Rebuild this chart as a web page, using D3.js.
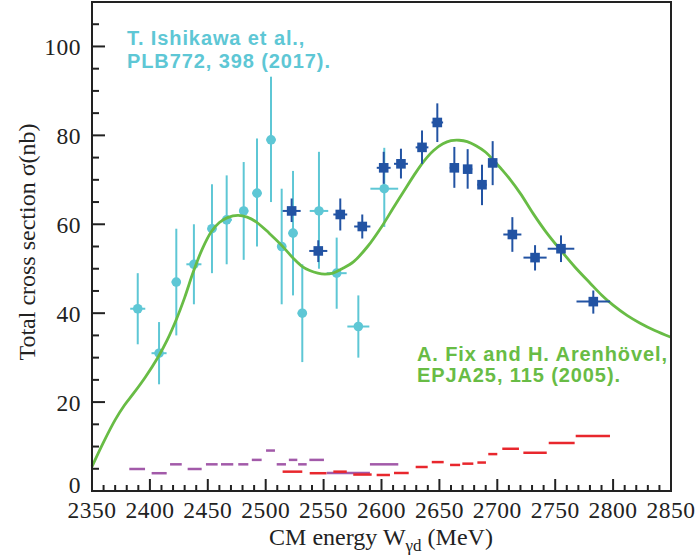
<!DOCTYPE html>
<html lang="en">
<head>
<meta charset="UTF-8">
<title>Total cross section vs CM energy</title>
<script src="https://cdn.jsdelivr.net/npm/d3@7"></script>
<style>
  body { margin: 0; background: #fff; }
  .tick-label { font-family: "Liberation Serif", "DejaVu Serif", serif; font-size: 23.5px; letter-spacing: 0.5px; fill: #222; }
  .title { font-family: "Liberation Serif", "DejaVu Serif", serif; font-size: 24px; fill: #222; }
  .note { font-family: "Liberation Sans", Arial, sans-serif; font-weight: bold; font-size: 20px; letter-spacing: 0.9px; }
</style>
</head>
<body>
<script>
// light blue: T. Ishikawa et al. (circles)
var ishE  = [2389.5, 2407.9, 2422.8, 2438, 2453.6, 2466.3, 2481, 2492.5, 2504.6, 2513.8, 2523.6, 2531.6, 2546, 2561.3, 2580, 2602.4];
var ishV  = [41, 31, 47, 51, 59, 61, 63, 67, 79, 55, 58, 40, 63, 49, 37, 68];
var ishHi = [49, 38, 59, 60, 69, 71, 74, 79.3, 93.2, 68, 72, 51, 76.3, 57, 44, 77.2];
var ishLo = [33, 24, 35, 42, 49, 51, 52, 55, 65, 42, 44, 29, 50, 41, 30, 59.4];
var ishDE = [6.5, 6.5, 4, 6.5, 4, 4.5, 4, 4, 4, 4, 4, 4, 8, 8.6, 9.5, 12];

// dark blue squares
var newE  = [2522.4, 2545.4, 2564.4, 2583.4, 2601.9, 2616.8, 2635, 2648.2, 2662.9, 2674.4, 2686.8, 2696, 2713, 2732.6, 2755, 2782.9];
var newV  = [63, 54, 62.2, 59.5, 72.7, 73.6, 77.3, 82.9, 72.7, 72.4, 68.9, 73.8, 57.7, 52.5, 54.5, 42.6];
var newHi = [65.8, 56.4, 65.8, 62.2, 76.3, 77, 81.1, 87.2, 77.4, 76.9, 73.4, 78.7, 61.6, 55.3, 57.5, 45.1];
var newLo = [60.5, 51.5, 58.6, 56.8, 69.1, 70.3, 73.6, 78.5, 68.2, 68, 64.3, 68.8, 53.8, 49.6, 51.5, 39.9];
var newDE = [7.8, 7.8, 6, 7, 6, 6, 5.5, 5, 4, 4, 4, 4, 7.8, 10, 11.5, 14.5];

// green: Fix and Arenhovel calculation
var theoE = [2350, 2360, 2370, 2378, 2386, 2396, 2407, 2415, 2423, 2430, 2437.5, 2445, 2453, 2460, 2467, 2476, 2484, 2492, 2503, 2514, 2524, 2531, 2538, 2545, 2551, 2558, 2566, 2576, 2588, 2601, 2610, 2619, 2628, 2636, 2645, 2653, 2660, 2667, 2674, 2682, 2690, 2697, 2704, 2711, 2720, 2731, 2742, 2754, 2767, 2780, 2790, 2800, 2812, 2823, 2836, 2850];
var theoV = [5.5, 11, 16, 19.3, 22, 25.6, 30.1, 34, 38.7, 43.5, 49.3, 54.3, 58.3, 60.4, 61.5, 62, 61.6, 60.5, 58, 55.2, 52.3, 50.6, 49.6, 49, 48.8, 49, 50, 51.6, 55, 59.8, 63.6, 67.3, 71, 74, 76.6, 78.1, 78.8, 78.9, 78.6, 77.6, 76.2, 74.3, 72.3, 70.1, 66.9, 62.4, 58.3, 54.4, 50.4, 46.8, 44.1, 41.8, 39.5, 37.8, 36.1, 34.6];

// purple and red bin segments near the bottom
var purpLo = [2382.2, 2401.5, 2417.4, 2432.6, 2448.4, 2461.4, 2476.3, 2488, 2500.3, 2509.5, 2520, 2528, 2537.7, 2552.7, 2590];
var purpHi = [2395.8, 2414.5, 2427.5, 2444.7, 2458.5, 2472, 2485, 2496.5, 2508, 2517.5, 2527.3, 2535.4, 2550.3, 2590, 2614.5];
var purpV  = [4.95, 4.0, 6.0, 4.95, 6.0, 6.0, 6.0, 7.0, 9.1, 6.0, 7.0, 6.0, 7.0, 4.05, 6.0];
var redLo = [2514.6, 2538, 2558.4, 2575.6, 2595.8, 2610.8, 2629.5, 2643.4, 2659.2, 2669.8, 2682.8, 2692.2, 2704.3, 2722.5, 2744.4, 2767.7];
var redHi = [2531.6, 2552.5, 2570, 2591.5, 2607.3, 2623.5, 2639.9, 2653.7, 2667.9, 2679.3, 2690.2, 2700, 2718.7, 2742.7, 2766.8, 2797.3];
var redV  = [4.35, 4.0, 4.35, 3.7, 3.6, 4.05, 5.4, 6.5, 5.86, 6.15, 6.4, 8.3, 9.5, 8.6, 10.8, 12.4];

var xTicks = [2350, 2400, 2450, 2500, 2550, 2600, 2650, 2700, 2750, 2800, 2850];
var yTicks = [0, 20, 40, 60, 80, 100];

var W = 697, H = 556;
var m = {left: 92, top: 2, right: 26, bottom: 65};
var x = d3.scaleLinear().domain([2350, 2850]).range([m.left, W - m.right]);
var y = d3.scaleLinear().domain([0, 110]).range([H - m.bottom, m.top]);

var cLight = "#5ec7d5", cDark = "#2253a3", cGreen = "#68bc45", cPurp = "#a25aa9", cRed = "#e8272d";

var svg = d3.select("body").append("svg").attr("width", W).attr("height", H);

// bottom segments
var pIdx = d3.range(purpV.length);
svg.append("g").selectAll("line").data(pIdx).enter().append("line")
  .attr("x1", function(i){ return x(purpLo[i]); })
  .attr("x2", function(i){ return x(purpHi[i]); })
  .attr("y1", function(i){ return y(purpV[i]); })
  .attr("y2", function(i){ return y(purpV[i]); })
  .attr("stroke", cPurp).attr("stroke-width", 2.5);
var rIdx = d3.range(redV.length);
svg.append("g").selectAll("line").data(rIdx).enter().append("line")
  .attr("x1", function(i){ return x(redLo[i]); })
  .attr("x2", function(i){ return x(redHi[i]); })
  .attr("y1", function(i){ return y(redV[i]); })
  .attr("y2", function(i){ return y(redV[i]); })
  .attr("stroke", cRed).attr("stroke-width", 2.5);

// light blue points with error bars
var iIdx = d3.range(ishV.length);
var gi = svg.append("g");
gi.selectAll(".ev").data(iIdx).enter().append("line")
  .attr("x1", function(i){ return x(ishE[i]); }).attr("x2", function(i){ return x(ishE[i]); })
  .attr("y1", function(i){ return y(ishLo[i]); }).attr("y2", function(i){ return y(ishHi[i]); })
  .attr("stroke", cLight).attr("stroke-width", 2);
gi.selectAll(".eh").data(iIdx).enter().append("line")
  .attr("x1", function(i){ return x(ishE[i] - ishDE[i]); }).attr("x2", function(i){ return x(ishE[i] + ishDE[i]); })
  .attr("y1", function(i){ return y(ishV[i]); }).attr("y2", function(i){ return y(ishV[i]); })
  .attr("stroke", cLight).attr("stroke-width", 2);
gi.selectAll("circle").data(iIdx).enter().append("circle")
  .attr("cx", function(i){ return x(ishE[i]); })
  .attr("cy", function(i){ return y(ishV[i]); })
  .attr("r", 4.8).attr("fill", cLight);

// theory curve
var line = d3.line()
  .x(function(i){ return x(theoE[i]); })
  .y(function(i){ return y(theoV[i]); })
  .curve(d3.curveCatmullRom.alpha(0.5));
svg.append("path").attr("d", line(d3.range(theoE.length)))
  .attr("fill", "none").attr("stroke", cGreen).attr("stroke-width", 2.8);

// dark blue squares with error bars
var nIdx = d3.range(newV.length);
var gn = svg.append("g");
gn.selectAll(".ev").data(nIdx).enter().append("line")
  .attr("x1", function(i){ return x(newE[i]); }).attr("x2", function(i){ return x(newE[i]); })
  .attr("y1", function(i){ return y(newLo[i]); }).attr("y2", function(i){ return y(newHi[i]); })
  .attr("stroke", cDark).attr("stroke-width", 2);
gn.selectAll(".eh").data(nIdx).enter().append("line")
  .attr("x1", function(i){ return x(newE[i] - newDE[i]); }).attr("x2", function(i){ return x(newE[i] + newDE[i]); })
  .attr("y1", function(i){ return y(newV[i]); }).attr("y2", function(i){ return y(newV[i]); })
  .attr("stroke", cDark).attr("stroke-width", 2);
gn.selectAll("rect").data(nIdx).enter().append("rect")
  .attr("x", function(i){ return x(newE[i]) - 4.8; })
  .attr("y", function(i){ return y(newV[i]) - 4.8; })
  .attr("width", 9.6).attr("height", 9.6).attr("fill", cDark);

// frame
svg.append("rect").attr("x", m.left).attr("y", m.top)
  .attr("width", W - m.left - m.right).attr("height", H - m.top - m.bottom)
  .attr("fill", "none").attr("stroke", "#222").attr("stroke-width", 2);

// ticks (inward)
var xMinor = d3.range(2360, 2850, 10);
svg.append("g").selectAll("line").data(xMinor).enter().append("line")
  .attr("x1", function(d){ return x(d); }).attr("x2", function(d){ return x(d); })
  .attr("y1", y(0)).attr("y2", function(d){ return d % 50 === 0 ? y(0) - 12 : y(0) - 6; })
  .attr("stroke", "#222").attr("stroke-width", 2);
var yMinor = d3.range(5, 110, 5);
svg.append("g").selectAll("line").data(yMinor).enter().append("line")
  .attr("y1", function(d){ return y(d); }).attr("y2", function(d){ return y(d); })
  .attr("x1", x(2350)).attr("x2", function(d){ return d % 20 === 0 ? x(2350) + 13 : x(2350) + 7; })
  .attr("stroke", "#222").attr("stroke-width", 2);

// tick labels
svg.append("g").selectAll("text").data(xTicks).enter().append("text")
  .attr("class", "tick-label").attr("text-anchor", "middle")
  .attr("x", function(d){ return x(d); }).attr("y", 518)
  .text(function(d){ return d; });
svg.append("g").selectAll("text").data(yTicks).enter().append("text")
  .attr("class", "tick-label").attr("text-anchor", "end")
  .attr("x", 81).attr("y", function(d){ return d === 0 ? y(d) + 2 : y(d) + 9; })
  .text(function(d){ return d; });

// axis titles
var xt = svg.append("text").attr("class", "title").attr("text-anchor", "middle")
  .attr("x", 381).attr("y", 545);
xt.append("tspan").text("CM energy W");
xt.append("tspan").attr("dy", 6).attr("font-size", 17).text("γd");
xt.append("tspan").attr("dy", -6).text(" (MeV)");

svg.append("text").attr("class", "title").attr("text-anchor", "middle")
  .attr("font-size", 25)
  .attr("transform", "translate(35,242) rotate(-90)")
  .text("Total cross section σ(nb)");

// notes
svg.append("text").attr("class", "note").attr("fill", cLight).attr("x", 127).attr("y", 45).text("T. Ishikawa et al.,");
svg.append("text").attr("class", "note").attr("fill", cLight).attr("x", 127).attr("y", 68).text("PLB772, 398 (2017).");
svg.append("text").attr("class", "note").attr("fill", cGreen).attr("x", 417).attr("y", 361).text("A. Fix and H. Arenhövel,");
svg.append("text").attr("class", "note").attr("fill", cGreen).attr("x", 417).attr("y", 382).text("EPJA25, 115 (2005).");
</script>
</body>
</html>
